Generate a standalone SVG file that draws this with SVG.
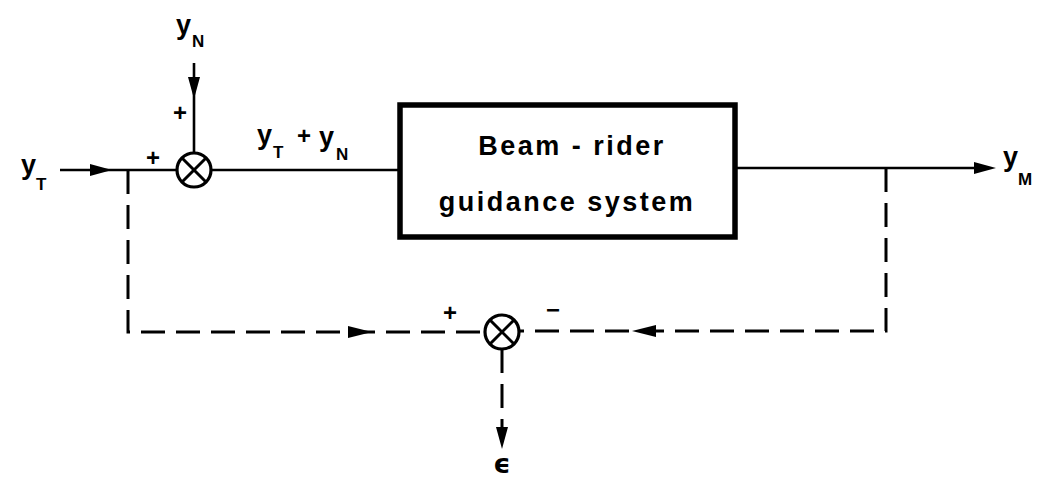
<svg xmlns="http://www.w3.org/2000/svg" width="1041" height="488" viewBox="0 0 1041 488">
<style>
.ln{fill:none;stroke:#000;stroke-width:2.6}
.dash{fill:none;stroke:#000;stroke-width:3;stroke-dasharray:24 11}
.ah{fill:#000;stroke:none}
.sj{fill:#fff;stroke:#000;stroke-width:3.2}
.x{stroke:#000;stroke-width:3}
.box{fill:#fff;stroke:#000;stroke-width:5.5}
.t{font-family:"Liberation Sans",Arial,sans-serif;font-weight:bold;fill:#000}
.v{font-size:27px}
.s{font-size:17px}
.bt{font-size:27px;letter-spacing:2.5px}
.sg{font-size:24px}
</style>
<rect width="1041" height="488" fill="#fff"/>
<g id="connectors">
  <line class="ln" x1="60" y1="170" x2="177" y2="170"/>
  <polygon class="ah" points="112,170 90,164 90,176"/>
  <line class="ln" x1="194" y1="63" x2="194" y2="153"/>
  <polygon class="ah" points="194,99 188,77 200,77"/>
  <line class="ln" x1="211" y1="170" x2="400" y2="170"/>
  <line class="ln" x1="735" y1="168" x2="980" y2="168"/>
  <polygon class="ah" points="996,168 974,162 974,174"/>
  <path class="dash" d="M128,170 V332 H485"/>
  <polygon class="ah" points="372,332 348,326 348,338"/>
  <path class="dash" d="M886,168 V331 H519"/>
  <polygon class="ah" points="632,331 656,325 656,337"/>
  <path class="dash" d="M502,349 V430"/>
  <polygon class="ah" points="502,449 496,427 508,427"/>
</g>
<g id="sum1">
  <circle class="sj" cx="194" cy="170" r="17"/>
  <line class="x" x1="182" y1="158" x2="206" y2="182"/>
  <line class="x" x1="206" y1="158" x2="182" y2="182"/>
  <text class="t sg" x="180" y="121" text-anchor="middle">+</text>
  <text class="t sg" x="153" y="166" text-anchor="middle">+</text>
</g>
<g id="sum2">
  <circle class="sj" cx="502" cy="332" r="17"/>
  <line class="x" x1="490" y1="320" x2="514" y2="344"/>
  <line class="x" x1="514" y1="320" x2="490" y2="344"/>
  <text class="t sg" x="450" y="321" text-anchor="middle">+</text>
  <text class="t sg" x="553" y="318" text-anchor="middle">−</text>
</g>
<g id="system">
  <rect class="box" x="400" y="105" width="335" height="132"/>
  <text class="t bt" x="572" y="155" text-anchor="middle">Beam - rider</text>
  <text class="t bt" x="567" y="211" text-anchor="middle">guidance  system</text>
</g>
<g id="yT">
  <text class="t v" x="21" y="174">y<tspan class="s" x="36" y="190">T</tspan></text>
</g>
<g id="yN">
  <text class="t v" x="176" y="34">y<tspan class="s" x="192" y="47">N</tspan></text>
</g>
<g id="yTyN">
  <text class="t v" x="257" y="144">y<tspan class="s" x="273" y="158">T</tspan><tspan class="sg" x="297" y="144">+</tspan><tspan x="319" y="146">y</tspan><tspan class="s" x="336" y="160">N</tspan></text>
</g>
<g id="yM">
  <text class="t v" x="1003" y="166">y<tspan class="s" x="1018" y="185">M</tspan></text>
</g>
<g id="eps">
  <text x="502" y="473" text-anchor="middle" style="font-family:'DejaVu Sans',sans-serif;font-weight:bold;font-size:27px">ϵ</text>
</g>
</svg>
